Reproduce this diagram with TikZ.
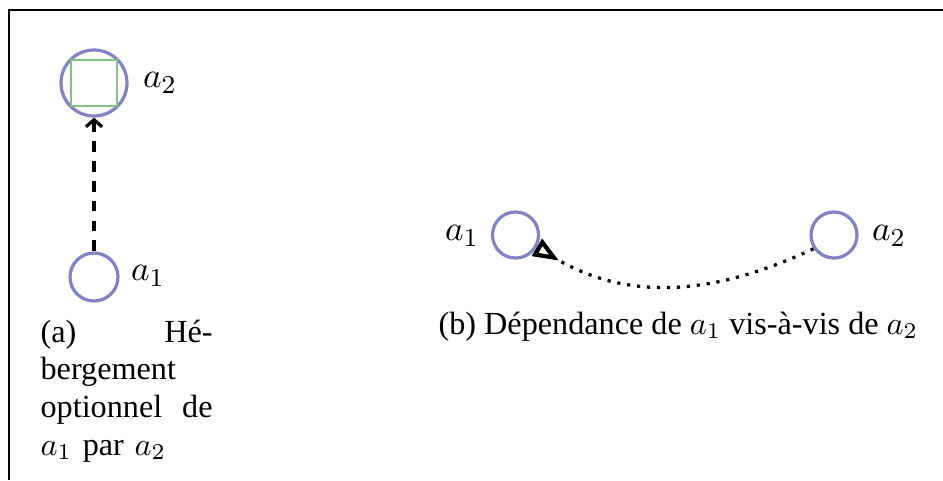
\documentclass[tikz,border=0pt]{standalone}
\usepackage{fontspec}
\setmainfont{Liberation Serif}
\usepackage{tikz}
\usetikzlibrary{arrows.meta}
\definecolor{agentblue}{HTML}{8282C6}
\definecolor{hostgreen}{HTML}{82C482}

\begin{document}
\begin{tikzpicture}[x=0.3106pt, y=0.3106pt,
    agent/.style={circle, draw=agentblue, line width=1pt, inner sep=0pt},
    host/.style={rectangle, draw=hostgreen, line width=0.8pt, minimum size=14.3pt, inner sep=0pt},
    lbl/.style={inner sep=0pt, font=\fontsize{11}{13}\selectfont},
    captext/.style={inner sep=0pt, font=\fontsize{10}{11.7}\selectfont}]
    \useasboundingbox (0,0) rectangle (943,480);
    \draw[line width=0.6pt] (9,0) -- (9,470) -- (943,470);
    % (a) hebergement
    \node[agent, minimum size=20.5pt] (ha2) at (94,397) {};
    \node[host] (box) at (ha2) {};
    \node[agent, minimum size=14.9pt] (ha1) at (94,203) {};
    \node[lbl] (ha2l) at (160,397) {$a_2$};
    \node[lbl] (ha1l) at (148,204) {$a_1$};
    \draw[dash pattern=on 3.4pt off 2.8pt, line width=1pt, -{Straight Barb[length=2.2pt, width=5pt]}] (ha1) -- (ha2);
    \node[captext, text width=53.4pt, align=left, anchor=base west] (capa) at (40,138)
        {(a)\hfill Hé-\\bergement\\optionnel\hfill de\\$a_1$ par $a_2$};
    % (b) dependance
    \node[agent, minimum size=14.3pt] (da1) at (515.5,245) {};
    \node[agent, minimum size=14.3pt] (da2) at (834,245) {};
    \node[lbl] (da1l) at (462,244) {$a_1$};
    \node[lbl] (da2l) at (889,244) {$a_2$};
    \draw[line width=1pt, dash pattern=on 1pt off 2.1pt,
        -{Triangle[open, reversed, length=8pt, width=6pt, line width=1.3pt]}]
        (da2.-146) to[out=-155, in=-31] (da1.-30);
    \node[captext, anchor=base west] (capb) at (438,146) {(b) Dépendance de $a_1$ vis-à-vis de $a_2$};
\end{tikzpicture}
\end{document}
